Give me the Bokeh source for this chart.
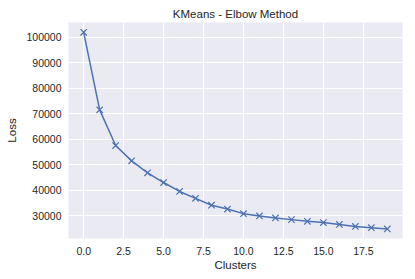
from bokeh.plotting import figure
from bokeh.models import FixedTicker, NumeralTickFormatter, Range1d
from bokeh.embed import file_html
from bokeh.resources import INLINE

clusters = list(range(20))
loss = [102000, 71600, 57600, 51600, 46900, 43100, 39600, 36900, 34200, 32700,
        30900, 30000, 29200, 28550, 27900, 27400, 26650, 25900, 25400, 24900]
x_ticks = [0, 2.5, 5, 7.5, 10, 12.5, 15, 17.5]
y_ticks = [30000, 40000, 50000, 60000, 70000, 80000, 90000, 100000]

FONT = "Liberation Sans"
TXT = "#262626"

p = figure(width=415, height=279, output_backend="svg", toolbar_location=None,
           title="KMeans - Elbow Method",
           x_range=Range1d(-0.95, 19.95), y_range=Range1d(21150, 105850))
p.min_border_left = 68
p.min_border_right = 13
p.min_border_top = 22
p.min_border_bottom = 41
p.background_fill_color = "#EAEAF2"
p.border_fill_color = "white"
p.outline_line_color = None

p.title.align = "center"
p.title.text_font = FONT
p.title.text_font_size = "11.5px"
p.title.text_font_style = "normal"
p.title.text_color = TXT
p.title.offset = 0
p.title.standoff = 6

for ax in (p.xaxis[0], p.yaxis[0]):
    ax.axis_line_color = None
    ax.major_tick_line_color = None
    ax.minor_tick_line_color = None
    ax.major_tick_out = 0
    ax.major_tick_in = 0
    ax.minor_tick_out = 0
    ax.minor_tick_in = 0
    ax.major_label_text_font = FONT
    ax.major_label_text_font_size = "10.5px"
    ax.major_label_text_color = TXT
    ax.axis_label_text_font = FONT
    ax.axis_label_text_font_size = "11.5px"
    ax.axis_label_text_font_style = "normal"
    ax.axis_label_text_color = TXT
    ax.major_label_standoff = 7
    ax.axis_label_standoff = 5

p.xaxis[0].major_label_standoff = 8
p.xaxis[0].axis_label_standoff = 1

p.xaxis.axis_label = "Clusters"
p.yaxis.axis_label = "Loss"
p.xaxis.ticker = FixedTicker(ticks=x_ticks)
p.yaxis.ticker = FixedTicker(ticks=y_ticks)
p.xaxis.formatter = NumeralTickFormatter(format="0.0")
p.yaxis.formatter = NumeralTickFormatter(format="0")

p.grid.grid_line_color = "white"
p.grid.grid_line_width = 1.2

p.line(clusters, loss, line_color="#4C72B0", line_width=1.5)
p.scatter(clusters, loss, marker="x", size=9, line_color="#4C72B0", line_width=1.2)

open("out.html", "w").write(file_html(p, INLINE))
